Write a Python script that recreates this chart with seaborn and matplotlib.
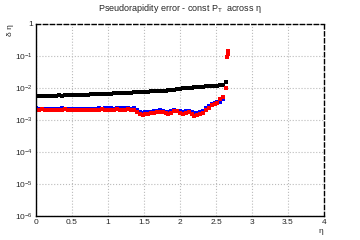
import numpy as np
import pandas as pd
import seaborn as sns
import matplotlib.pyplot as plt
from matplotlib.ticker import LogLocator, MultipleLocator, NullFormatter

# eta bins
eta = [round(0.04 * i, 2) for i in range(67)]

# delta eta (x1e-3) for the three series
black_vals = [5.6, 5.7, 5.6, 5.7, 5.8, 5.7, 5.8, 5.8, 5.9, 5.8,
              5.9, 6.0, 5.9, 6.0, 6.1, 6.0, 6.1, 6.2, 6.2, 6.3,
              6.3, 6.4, 6.5, 6.5, 6.6, 6.6, 6.7, 6.8, 6.8, 6.9,
              7.0, 7.0, 7.1, 7.2, 7.3, 7.3, 7.4, 7.5, 7.6, 7.7,
              7.8, 7.8, 7.9, 8.0, 8.1, 8.3, 8.4, 8.6, 8.9, 9.2,
              9.5, 9.8, 10.0, 10.1, 10.3, 10.5, 10.7, 10.9, 11.0, 11.2,
              11.3, 11.5, 11.7, 11.9, 12.0, 12.2, 15.8]
blue_vals = [2.30, 2.28, 2.25, 2.27, 2.24, 2.26, 2.22, 2.25, 2.27, 2.30,
             2.26, 2.24, 2.22, 2.20, 2.18, 2.20, 2.16, 2.18, 2.20, 2.22,
             2.25, 2.27, 2.30, 2.28, 2.30, 2.32, 2.30, 2.28, 2.30, 2.32,
             2.30, 2.33, 2.30, 2.28, 2.30, 2.10, 1.75, 1.70, 1.72, 1.80,
             1.78, 1.85, 1.95, 2.00, 1.95, 1.80, 1.75, 1.85, 2.00, 1.98,
             1.90, 1.80, 1.92, 1.95, 1.75, 1.65, 1.70, 1.78, 1.85, 2.30,
             2.80, 3.20, 3.50, 3.60, 3.70, 4.60, np.nan]
red_vals = [2.10, 2.05, 2.15, 2.08, 2.02, 2.10, 2.05, 2.12, 2.00, 2.08,
            2.15, 2.05, 2.02, 2.08, 2.00, 2.05, 2.10, 2.02, 2.06, 2.10,
            2.04, 2.12, 2.08, 2.15, 2.10, 2.05, 2.12, 2.08, 2.15, 2.10,
            2.05, 2.12, 2.15, 2.08, 2.10, 1.80, 1.50, 1.45, 1.50, 1.58,
            1.62, 1.65, 1.75, 1.80, 1.72, 1.60, 1.50, 1.65, 1.88, 1.85,
            1.70, 1.52, 1.70, 1.80, 1.55, 1.38, 1.45, 1.55, 1.62, 2.00,
            2.40, 2.90, 3.10, 3.40, 4.60, 5.40, 9.7]
red_tail_eta = [2.655, 2.665, 2.672]
red_tail_vals = [90.0, 115.0, 140.0]

df = pd.DataFrame({"eta": eta,
                   "black": np.array(black_vals) * 1e-3,
                   "blue": np.array(blue_vals) * 1e-3,
                   "red": np.array(red_vals) * 1e-3})
tail = pd.DataFrame({"eta": red_tail_eta, "red": np.array(red_tail_vals) * 1e-3})

sns.set_style("white")
plt.rcParams['font.family'] = ['Liberation Sans', 'DejaVu Sans']
plt.rcParams['mathtext.default'] = 'regular'

fig = plt.figure(figsize=(3.6, 2.4), dpi=100)
ax = fig.add_axes([0.1, 0.1, 0.8, 0.8])

kw = dict(marker='s', s=6, linewidth=0, ax=ax, legend=False)
sns.scatterplot(data=df, x="eta", y="black", color="black", **kw)
sns.scatterplot(data=df, x="eta", y="blue", color="blue", **kw)
sns.scatterplot(data=df, x="eta", y="red", color="red", **kw)
sns.scatterplot(data=tail, x="eta", y="red", color="red", **kw)

ax.set_yscale('log')
ax.set_xlim(0, 4)
ax.set_ylim(1e-6, 1)
ax.set_xlabel('')
ax.set_ylabel('')

ax.xaxis.set_minor_locator(MultipleLocator(0.1))
ax.set_xticks([0, 0.5, 1, 1.5, 2, 2.5, 3, 3.5, 4])
ax.set_xticklabels(['0', '0.5', '1', '1.5', '2', '2.5', '3', '3.5', '4'])
ax.yaxis.set_minor_locator(LogLocator(base=10, subs=np.arange(2, 10), numticks=20))
ax.yaxis.set_minor_formatter(NullFormatter())
ax.set_yticks([1e-6, 1e-5, 1e-4, 1e-3, 1e-2, 1e-1, 1])
ax.set_yticklabels(['$10^{-6}$', '$10^{-5}$', '$10^{-4}$', '$10^{-3}$',
                    '$10^{-2}$', '$10^{-1}$', '1'])

ax.tick_params(which='major', direction='in', length=5, width=1, labelsize=6,
               top=False, right=False, pad=2)
ax.tick_params(which='minor', direction='in', length=2.5, width=0.8,
               top=False, right=False)

ax.grid(True, which='major', linestyle=':', color='#bbbbbb', linewidth=0.8)
ax.set_axisbelow(True)

for side in ['left', 'bottom']:
    ax.spines[side].set_color('black')
    ax.spines[side].set_linewidth(1)
for side in ['top', 'right']:
    ax.spines[side].set_color('black')
    ax.spines[side].set_linewidth(1)
    ax.spines[side].set_linestyle((0, (3, 2)))

fig.text(0.5, 0.965, 'Pseudorapidity error - const P$_{T}$  across \u03b7',
         ha='center', va='center', fontsize=6.5)
fig.text(0.03, 0.9, '\u03b4 \u03b7', rotation=90, ha='center', va='top', fontsize=6)
fig.text(0.89, 0.035, '\u03b7', ha='center', va='center', fontsize=6)

fig.savefig('out.png', dpi=100)
